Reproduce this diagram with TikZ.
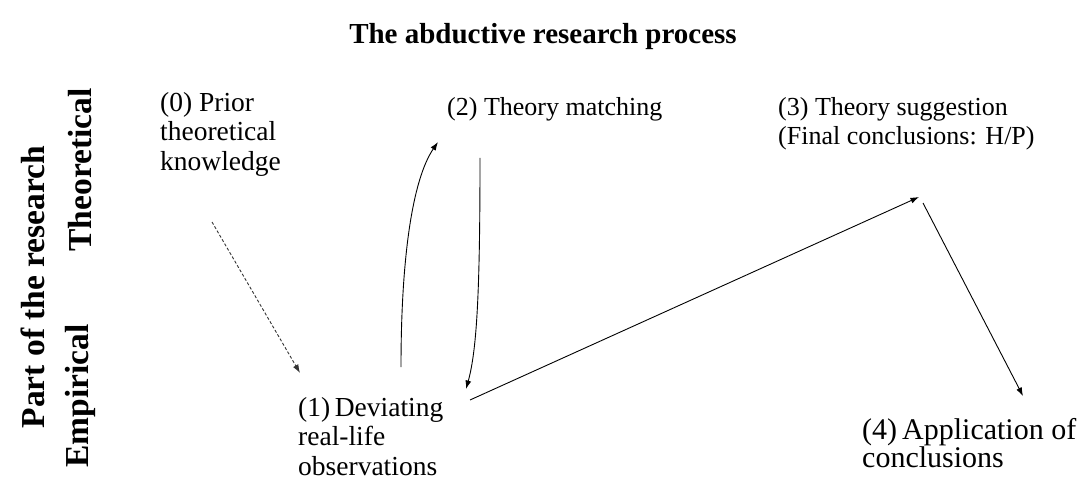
\documentclass[tikz,border=0pt]{standalone}
\usepackage{fontspec}
\setmainfont{Liberation Serif}
\usetikzlibrary{arrows.meta}
\tikzset{
  lbl/.style={inner sep=0pt, anchor=north west, align=left, font=\fontsize{26}{29.5}\selectfont},
  lblb/.style={lbl, font=\fontsize{27.5}{29.5}\selectfont},
  lblc/.style={lbl, font=\fontsize{30}{28.5}\selectfont},
  side/.style={inner sep=0pt, rotate=90, font=\fontsize{33.5}{36}\selectfont\bfseries},
  ttl/.style={inner sep=0pt, font=\fontsize{29}{32}\selectfont\bfseries},
  conn/.style={line width=0.9pt, -{Latex[length=8.5pt,width=6pt]}},
  dconn/.style={conn, dash pattern=on 3pt off 2pt, draw=black!80}
}
\begin{document}
\begin{tikzpicture}[x=1pt,y=-1pt]
\useasboundingbox (0,0) rectangle (1087,481);
\node[ttl] (title) at (543,37) {The abductive research process};
\node[side] (part) at (33,287) {Part of the research};
\node[side] (theo) at (80,170) {Theoretical};
\node[side] (emp) at (80,396) {Empirical};

\node[lblb] (n0) at (160,92) {(0) Prior\\theoretical\\knowledge};
\node[lbl] (n2) at (447,97) {(2) Theory matching};
\node[lbl] (n3) at (778,97) {(3) Theory suggestion\\(Final conclusions: H/P)};
\node[lblb] (n1) at (298,397) {(1)\,Deviating\\real-life\\observations};
\node[lblc] (n4) at (862,418) {(4)\,Application of\\conclusions};

\coordinate (a0s) at (212,222);
\coordinate (a0e) at (300,373);
\coordinate (a1s) at (401,367);
\coordinate (a1e) at (438,142);
\coordinate (a2s) at (480,158);
\coordinate (a2e) at (466,389);
\coordinate (a3s) at (470,400);
\coordinate (a3e) at (919,197);
\coordinate (a4s) at (923,203);
\coordinate (a4e) at (1023,396);

\draw[dconn] (a0s) -- (a0e);
\draw[conn] (a1s) .. controls (401,260) and (412,180) .. (a1e);
\draw[conn] (a2s) .. controls (480,290) and (477,350) .. (a2e);
\draw[conn] (a3s) -- (a3e);
\draw[conn] (a4s) -- (a4e);
\end{tikzpicture}
\end{document}
